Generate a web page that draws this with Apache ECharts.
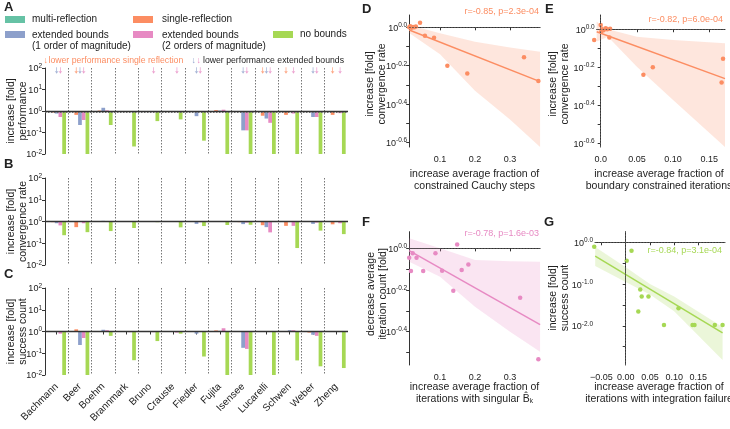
<!DOCTYPE html>
<html><head><meta charset="utf-8">
<script src="https://cdn.jsdelivr.net/npm/echarts@6/dist/echarts.min.js"></script>
<style>html,body{margin:0;padding:0;background:#fff}#c{width:730px;height:429px}</style>
</head><body><div id="c"></div>
<script>
// ---------------- DATA ----------------
const categories = ['Bachmann','Beer','Boehm','Brannmark','Bruno','Crauste','Fiedler','Fujita','Isensee','Lucarelli','Schwen','Weber','Zheng'];
const seriesNames = ['multi-reflection','single-reflection','extended bounds (1 order of magnitude)','extended bounds (2 orders of magnitude)','no bounds'];
// log10 fold changes, panel A: performance
const perfMulti  = [0,0,0,0,0,0,0,0,0,0,0,0,0];
const perfSingle = [-0.07,-0.18,0.02,0,-0.03,0,-0.02,0.04,-0.03,-0.22,-0.18,-0.02,-0.18];
const perfExt1   = [-0.12,-0.65,0.15,0,-0.05,0,-0.24,0.02,-0.9,-0.35,-0.03,-0.28,-0.04];
const perfExt2   = [-0.28,-0.42,0.03,0,-0.05,-0.05,-0.03,0.06,-0.9,-0.55,-0.12,-0.28,-0.1];
const perfNone   = [-2,-2,-0.65,-1.65,-0.47,-0.39,-1.38,-2,-2,-2,-2,-2,-2];
// panel B: convergence rate
const convMulti  = [0,0,0,0,0,0,0,0,0,0,0,0,0];
const convSingle = [-0.03,-0.26,0,0,0,0,-0.02,0,-0.03,-0.17,-0.2,-0.02,-0.13];
const convExt1   = [-0.08,0,0.03,0,0,0.02,-0.11,0,-0.12,-0.26,-0.02,-0.11,-0.02];
const convExt2   = [-0.18,-0.08,0.01,0,0,0,-0.03,0,-0.05,-0.5,-0.2,-0.05,-0.08];
const convNone   = [-0.63,-0.49,-0.44,-0.3,-0.03,-0.27,-0.21,-0.16,-0.15,-0.02,-1.22,-0.42,-0.58];
// panel C: success count
const succMulti  = [0,0,0,0,0,0,0,0,0,0,0,0,0];
const succSingle = [0,0.1,0,0,0,0,0,0.05,0,-0.02,0.02,-0.05,-0.02];
const succExt1   = [-0.03,-0.62,0.08,0,0,0,-0.1,0.03,-0.75,0,0.06,-0.15,0];
const succExt2   = [-0.1,-0.3,0.06,-0.03,-0.03,-0.05,-0.02,0.15,-0.8,0,0.06,-0.2,0];
const succNone   = [-2,-2,-0.2,-1.32,-0.44,-0.1,-1.15,-2,-2,-2,-1.33,-1.6,-1.68];
// "lower performance" markers (1 = arrow shown)
const arrowSingle = [0,1,0,0,0,0,0,0,0,1,1,0,1];
const arrowExt1   = [1,1,0,0,0,0,1,0,1,1,0,1,0];
const arrowExt2   = [1,1,0,0,1,1,1,0,1,1,1,1,1];
const barTickLabels = [-2,-1,0,1,2];

// panel D: x = increase avg fraction constrained Cauchy steps, y = log10 fold convergence rate
const dX = [0.012,0.015,0.019,0.023,0.027,0.031,0.043,0.057,0.083,0.121,0.178,0.34,0.381];
const dY = [0.0,0.005,-0.003,0.002,0.0,0.004,0.024,-0.044,-0.054,-0.2,-0.24,-0.156,-0.28];
const dLineX = [0.012,0.386], dLineY = [-0.014,-0.283];
const dBandX = [0.012,0.1,0.2,0.3,0.386];
const dBandHi = [0.012,-0.031,-0.075,-0.105,-0.127];
const dBandLo = [-0.03,-0.14,-0.33,-0.48,-0.623];
// panel E
const eX = [-0.009,0.0,0.001,0.002,0.004,0.007,0.009,0.012,0.059,0.072,0.167,0.169,0.013];
const eY = [-0.056,0.023,-0.01,0.0,-0.005,0.005,0.0,-0.044,-0.24,-0.2,-0.28,-0.156,0.002];
const eLineX = [-0.0055,0.1717], eLineY = [-0.013,-0.26];
const eBandX = [-0.0055,0.01,0.05,0.1,0.1717];
const eBandHi = [0.04,0.0,-0.039,-0.056,-0.074];
const eBandLo = [-0.065,-0.04,-0.197,-0.372,-0.62];
// panel F
const fX = [0.012,0.017,0.022,0.033,0.052,0.087,0.106,0.138,0.149,0.162,0.181,0.329,0.381];
const fY = [-0.045,-0.109,-0.024,-0.045,-0.109,-0.024,-0.108,-0.203,0.019,-0.104,-0.077,-0.237,-0.532];
const fLineX = [0.012,0.386], fLineY = [-0.011,-0.366];
const fBandX = [0.012,0.1,0.2,0.3,0.386];
const fBandHi = [0.048,0.0,-0.056,-0.062,-0.064];
const fBandLo = [-0.064,-0.136,-0.28,-0.4,-0.496];
// panel G
const gX = [-0.065,0.002,0.012,0.03,0.033,0.026,0.047,0.079,0.109,0.138,0.142,0.184,0.2];
const gY = [-0.105,-0.44,-0.2,-1.13,-1.3,-1.66,-1.3,-1.98,-1.58,-1.98,-1.98,-1.98,-1.98];
const gLineX = [-0.063,0.2], gLineY = [-0.33,-2.17];
const gBandX = [-0.063,0.0,0.05,0.1,0.2];
const gBandHi = [-0.11,-0.6,-1.0,-1.3,-2.03];
const gBandLo = [-0.57,-0.95,-1.25,-1.65,-2.82];

// ---------------- STYLE ----------------
const FONT = 'Liberation Sans, Arial, Helvetica, DejaVu Sans, sans-serif';
const COLORS = ['#66c2a5','#fc8d62','#8da0cb','#e78ac3','#a6d854'];
const INK = '#222';
const richSup = {
  b: {fontSize: 9, fontFamily: FONT, color: INK, lineHeight: 11, verticalAlign: 'bottom'},
  s: {fontSize: 6.5, fontFamily: FONT, color: INK, lineHeight: 8, verticalAlign: 'top'}
};
const supFmt = (digits) => (v) => '{b|10}{s|' + (Math.abs(v) < 1e-9 ? (digits ? (0).toFixed(digits) : '0') : (digits ? v.toFixed(digits) : String(v))) + '}';

const grids = [
  {left: 45, top: 68, width: 303, height: 86},
  {left: 45, top: 178, width: 303, height: 87},
  {left: 45, top: 288, width: 303, height: 87},
  {left: 409.2, top: 15, width: 130.9, height: 132},
  {left: 596.7, top: 15, width: 128.3, height: 132},
  {left: 409.2, top: 231.7, width: 130.9, height: 133.3},
  {left: 595, top: 231.7, width: 130, height: 133.3}
];

const xAxes = [], yAxes = [], series = [];
const barPanels = [
  [perfMulti, perfSingle, perfExt1, perfExt2, perfNone],
  [convMulti, convSingle, convExt1, convExt2, convNone],
  [succMulti, succSingle, succExt1, succExt2, succNone]
];
barPanels.forEach((vals, i) => {
  xAxes.push({
    type: 'category', gridIndex: i, data: categories, boundaryGap: true,
    offset: i === 2 ? 5 : 0,
    axisLine: {show: false},
    axisTick: {show: i === 2, alignWithLabel: true, interval: 0, length: 3, lineStyle: {color: '#333'}},
    axisLabel: {show: i === 2, interval: 0, rotate: 45, fontSize: 10, fontFamily: FONT, color: INK, margin: 5},
    splitLine: {show: true, interval: 0, showMinLine: false, showMaxLine: false,
      lineStyle: {color: '#777', width: 1, type: [1.5, 1.5]}}
  });
  yAxes.push({
    type: 'value', gridIndex: i, min: -2, max: 2, interval: 1,
    axisLine: {show: true, lineStyle: {color: '#333', width: 1}},
    axisTick: {show: true, length: 3, lineStyle: {color: '#333'}},
    axisLabel: {formatter: supFmt(0), rich: richSup, margin: 3, customValues: barTickLabels},
    splitLine: {show: false}
  });
  vals.forEach((v, j) => {
    const s = {
      type: 'bar', name: seriesNames[j], xAxisIndex: i, yAxisIndex: i, data: v,
      barGap: '0%', barCategoryGap: '20%', itemStyle: {color: COLORS[j]}, silent: true
    };
    if (j === 4) {
      const ml = [{yAxis: 0, lineStyle: {color: '#333', width: 1.3, type: 'solid'}}];
      if (i === 0) ml.push({yAxis: -0.08, lineStyle: {color: '#666', width: 1, type: [1.5, 1.5]}});
      s.markLine = {silent: true, symbol: 'none', label: {show: false}, data: ml};
    }
    series.push(s);
  });
});
// lower-performance arrows in panel A
const arrowPath = 'path://M4,0 L6,0 L6,10 L10,9 L5,16 L0,9 L4,10 Z';
[[arrowSingle, 1, -3.73], [arrowExt1, 2, 0], [arrowExt2, 3, 3.73]].forEach(([flags, ci, off]) => {
  series.push({
    type: 'scatter', xAxisIndex: 0, yAxisIndex: 0, silent: true,
    data: flags.map(f => f ? 1.88 : '-'),
    symbol: arrowPath, symbolSize: [3.6, 6.5], symbolOffset: [off, 0],
    itemStyle: {color: COLORS[ci]}, z: 5
  });
});

// scatter panels
function bandSeries(gi, xs, lo, hi, color) {
  return {
    type: 'custom', xAxisIndex: gi, yAxisIndex: gi, silent: true, z: 1,
    data: xs.map((x, k) => [x, lo[k], hi[k]]),
    encode: {x: 0, y: [1, 2]},
    renderItem(params, api) {
      if (params.dataIndex !== 0) return null;
      const pts = [];
      for (let k = 0; k < xs.length; k++) pts.push(api.coord([xs[k], hi[k]]));
      for (let k = xs.length - 1; k >= 0; k--) pts.push(api.coord([xs[k], lo[k]]));
      return {type: 'polygon', shape: {points: pts}, style: {fill: color, opacity: 0.22}};
    }
  };
}
const scatterPanels = [
  {gi: 3, color: COLORS[1], x: dX, y: dY, lx: dLineX, ly: dLineY, bx: dBandX, lo: dBandLo, hi: dBandHi,
   xmin: 0.012, xmax: 0.386, ymin: -0.623, ymax: 0.064,
   xl: [0.1, 0.2, 0.3], xt: [0.1, 0.2, 0.3], xf: v => v.toFixed(1),
   yl: [0, -0.2, -0.4, -0.6], yt: [0, -0.1, -0.2, -0.3, -0.4, -0.5, -0.6], vline: false},
  {gi: 4, color: COLORS[1], x: eX, y: eY, lx: eLineX, ly: eLineY, bx: eBandX, lo: eBandLo, hi: eBandHi,
   xmin: -0.0055, xmax: 0.1717, ymin: -0.62, ymax: 0.075,
   xl: [0, 0.05, 0.1, 0.15], xt: [0, 0.05, 0.1, 0.15], xf: v => Math.abs(v) < 1e-9 ? '0.0' : v.toFixed(2),
   yl: [0, -0.2, -0.4, -0.6], yt: [0, -0.1, -0.2, -0.3, -0.4, -0.5, -0.6], vline: true},
  {gi: 5, color: COLORS[3], x: fX, y: fY, lx: fLineX, ly: fLineY, bx: fBandX, lo: fBandLo, hi: fBandHi,
   xmin: 0.012, xmax: 0.386, ymin: -0.56, ymax: 0.08,
   xl: [0.1, 0.2, 0.3], xt: [0.1, 0.2, 0.3], xf: v => v.toFixed(1),
   yl: [0, -0.2, -0.4], yt: [0, -0.1, -0.2, -0.3, -0.4, -0.5], vline: false},
  {gi: 6, color: COLORS[4], x: gX, y: gY, lx: gLineX, ly: gLineY, bx: gBandX, lo: gBandLo, hi: gBandHi,
   xmin: -0.0634, xmax: 0.205, ymin: -2.94, ymax: 0.254,
   xl: [-0.05, 0, 0.05, 0.1, 0.15], xt: [-0.05, 0, 0.05, 0.1, 0.15],
   xf: v => (v < -1e-9 ? '\u2212' : '') + Math.abs(v).toFixed(2),
   yl: [0, -1, -2], yt: [0, -0.5, -1, -1.5, -2, -2.5], vline: true}
];
scatterPanels.forEach(p => {
  xAxes.push({
    type: 'value', gridIndex: p.gi, min: p.xmin, max: p.xmax, offset: 5,
    axisLine: {show: true, lineStyle: {color: '#333', width: 1}},
    axisTick: {show: true, length: 3, customValues: p.xt, lineStyle: {color: '#333'}},
    axisLabel: {customValues: p.xl, formatter: p.xf, fontSize: 9, fontFamily: FONT, color: INK, margin: 3},
    splitLine: {show: false}
  });
  yAxes.push({
    type: 'value', gridIndex: p.gi, min: p.ymin, max: p.ymax,
    axisLine: {show: true, lineStyle: {color: '#333', width: 1}},
    axisTick: {show: true, length: 3, customValues: p.yt, lineStyle: {color: '#333'}},
    axisLabel: {customValues: p.yl, formatter: supFmt(1), rich: richSup, margin: 2},
    splitLine: {show: false}
  });
  series.push(bandSeries(p.gi, p.bx, p.lo, p.hi, p.color));
  const ml = [{yAxis: 0}];
  if (p.vline) ml.push({xAxis: 0});
  series.push({
    type: 'line', xAxisIndex: p.gi, yAxisIndex: p.gi, silent: true, z: 2,
    data: p.lx.map((x, k) => [x, p.ly[k]]), showSymbol: false, symbol: 'none',
    lineStyle: {color: p.color, width: 1.5},
    markLine: {silent: true, symbol: 'none', label: {show: false},
      lineStyle: {color: '#555', width: 1, type: [1.5, 1.5]}, data: ml}
  });
  series.push({
    type: 'scatter', xAxisIndex: p.gi, yAxisIndex: p.gi, silent: true, clip: false, z: 3,
    data: p.x.map((x, k) => [x, p.y[k]]), symbolSize: 4.5,
    itemStyle: {color: p.color, opacity: 1}
  });
});

// ---------------- GRAPHIC TEXT ----------------
function txt(x, y, text, st, extra) {
  return Object.assign({type: 'text', x, y, silent: true,
    style: Object.assign({text, fontFamily: FONT, fontSize: 10.5, fill: INK, verticalAlign: 'middle'}, st || {})}, extra || {});
}
function rect(x, y, w, h, c) { return {type: 'rect', silent: true, shape: {x, y, width: w, height: h}, style: {fill: c}}; }
const bold = {fontSize: 13, fontWeight: 'bold', verticalAlign: 'top'};
const vt = (x, y, text, st) => txt(x, y, text, Object.assign({align: 'center', lineHeight: 12.5}, st || {}), {rotation: Math.PI / 2});
const graphic = [
  txt(4, 1, 'A', bold), txt(4, 158, 'B', bold), txt(4, 268, 'C', bold),
  txt(362, 3, 'D', bold), txt(545, 3, 'E', bold), txt(362, 216, 'F', bold), txt(544, 216, 'G', bold),
  // legend
  rect(5, 16, 20, 7, COLORS[0]), txt(32, 19.5, seriesNames[0], {fontSize: 10}),
  rect(133, 16, 20, 7, COLORS[1]), txt(162, 19.5, seriesNames[1], {fontSize: 10}),
  rect(5, 31, 20, 7, COLORS[2]), txt(32, 29, 'extended bounds\n(1 order of magnitude)', {fontSize: 10, verticalAlign: 'top', lineHeight: 11.5}),
  rect(133, 31, 20, 7, COLORS[3]), txt(162, 29, 'extended bounds\n(2 orders of magnitude)', {fontSize: 10, verticalAlign: 'top', lineHeight: 11.5}),
  rect(273, 31, 20, 7, COLORS[4]), txt(300, 34.5, seriesNames[4], {fontSize: 10}),
  // arrow note
  txt(43.5, 61, '\u2193', {fill: COLORS[1], fontSize: 9}),
  txt(48.5, 61, 'lower performance single reflection', {fill: COLORS[1], fontSize: 8.7}),
  txt(191.5, 61, '\u2193', {fill: COLORS[2], fontSize: 9}),
  txt(196.5, 61, '\u2193', {fill: COLORS[3], fontSize: 9}),
  txt(203, 61, 'lower performance extended bounds', {fill: INK, fontSize: 8.7}),
  // y titles bar panels
  vt(17, 111, 'increase [fold]\nperformance'),
  vt(17, 221.5, 'increase [fold]\nconvergence rate'),
  vt(17, 331.5, 'increase [fold]\nsuccess count'),
  // scatter titles
  vt(376, 84, 'increase [fold]\nconvergence rate'),
  vt(559, 84, 'increase [fold]\nconvergence rate'),
  vt(377, 294, 'decrease average\niteration count [fold]'),
  vt(559, 298, 'increase [fold]\nsuccess count'),
  txt(474.5, 168, 'increase average fraction of\nconstrained Cauchy steps', {align: 'center', verticalAlign: 'top', lineHeight: 12}),
  txt(659, 168, 'increase average fraction of\nboundary constrained iterations', {align: 'center', verticalAlign: 'top', lineHeight: 12}),
  txt(474.5, 381, 'increase average fraction of\niterations with singular B\u0302{k|k}', {align: 'center', verticalAlign: 'top', lineHeight: 12,
    rich: {k: {fontSize: 6.5, fontFamily: FONT, fill: INK, lineHeight: 6, verticalAlign: 'bottom'}}}),
  txt(659, 381, 'increase average fraction of\niterations with integration failure', {align: 'center', verticalAlign: 'top', lineHeight: 12}),
  // correlation annotations
  txt(539, 12, 'r=-0.85, p=2.3e-04', {fill: COLORS[1], fontSize: 9, align: 'right'}),
  txt(723, 20, 'r=-0.82, p=6.0e-04', {fill: COLORS[1], fontSize: 9, align: 'right'}),
  txt(539, 233.5, 'r=-0.78, p=1.6e-03', {fill: COLORS[3], fontSize: 9, align: 'right'}),
  txt(722, 251, 'r=-0.84, p=3.1e-04', {fill: COLORS[4], fontSize: 9, align: 'right'})
];

const chart = echarts.init(document.getElementById('c'), null, {renderer: 'canvas'});
chart.setOption({
  animation: false,
  backgroundColor: '#fff',
  textStyle: {fontFamily: FONT},
  grid: grids,
  xAxis: xAxes,
  yAxis: yAxes,
  series: series,
  graphic: graphic
});
</script></body></html>
